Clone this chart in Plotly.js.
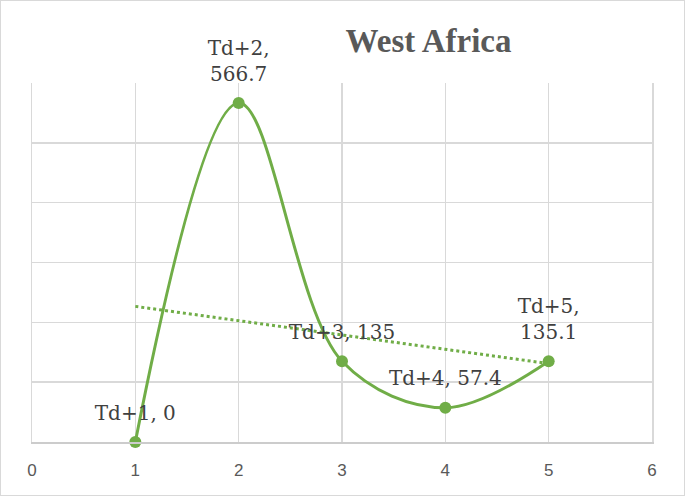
<!DOCTYPE html>
<html>
<head>
<meta charset="utf-8">
<script src="https://cdn.plot.ly/plotly-3.0.1.min.js"></script>
<style>
  body { margin: 0; background: #fff; }
  #chart { width: 685px; height: 496px; box-sizing: border-box; border: 1px solid #d9d9d9; }
</style>
</head>
<body>
<div id="chart"></div>
<script>
// West Africa values, Td+1 .. Td+5
var xVals = [1, 2, 3, 4, 5];
var yVals = [0, 566.7, 135, 57.4, 135.1];
var labelText = ["Td+1, 0", "Td+2,<br>566.7", "Td+3, 135", "Td+4, 57.4", "Td+5,<br>135.1"];
var xTicks = [0, 1, 2, 3, 4, 5, 6];
var yGrid = [0, 100, 200, 300, 400, 500, 600];

// linear trendline (least squares), like the Excel one
var n = xVals.length;
var mx = xVals.reduce((a, b) => a + b, 0) / n;
var my = yVals.reduce((a, b) => a + b, 0) / n;
var sxy = 0, sxx = 0;
for (var i = 0; i < n; i++) {
    sxy += (xVals[i] - mx) * (yVals[i] - my);
    sxx += (xVals[i] - mx) * (xVals[i] - mx);
}
var slope = sxy / sxx;
var trendY = xVals.map(x => my + slope * (x - mx));

var green = "#70ad47";

var trend = {
    x: xVals,
    y: trendY,
    type: "scatter",
    mode: "lines",
    line: {color: green, width: 3, dash: "dot"},
    hoverinfo: "none"
};

var trace = {
    x: xVals,
    y: yVals,
    type: "scatter",
    mode: "lines+markers",
    line: {color: green, width: 3, shape: "spline", smoothing: 1},
    marker: {color: green, size: 12},
    cliponaxis: false,
    hoverinfo: "none"
};

// labels on their own trace, with a bigger invisible marker to push them up
var labels = {
    x: xVals,
    y: yVals,
    type: "scatter",
    mode: "markers+text",
    marker: {color: "rgba(0,0,0,0)", size: 26},
    text: labelText,
    textposition: "top center",
    textfont: {family: "DejaVu Serif", size: 20, color: "#404040"},
    cliponaxis: false,
    hoverinfo: "none"
};

var data = [trend, trace, labels];
var layout = {
    width: 683,
    height: 494,
    margin: {l: 31, r: 32, t: 82, b: 53},
    showlegend: false,
    paper_bgcolor: "#fff",
    plot_bgcolor: "#fff",
    title: {
        text: "<b>West Africa</b>",
        font: {family: "Liberation Serif", size: 33, color: "#595959"},
        x: 0.626, xref: "container", xanchor: "center",
        y: 0.92, yref: "container", yanchor: "middle"
    },
    xaxis: {
        range: [0, 6],
        tickvals: xTicks,
        ticktext: xTicks.map(String),
        showgrid: true,
        gridcolor: "#d9d9d9",
        gridwidth: 1.5,
        zeroline: false,
        showline: true,
        linecolor: "#cccccc",
        linewidth: 2,
        ticks: "",
        ticklabelstandoff: 12,
        tickfont: {family: "Liberation Sans", size: 17, color: "#595959"}
    },
    yaxis: {
        range: [0, 600],
        tickvals: yGrid,
        showgrid: true,
        gridcolor: "#d9d9d9",
        gridwidth: 1.5,
        zeroline: false,
        showline: true,
        mirror: true,
        linecolor: "#d9d9d9",
        linewidth: 1.5,
        showticklabels: false,
        ticks: ""
    }
};

Plotly.newPlot("chart", data, layout, {displayModeBar: false, staticPlot: true});
</script>
</body>
</html>
